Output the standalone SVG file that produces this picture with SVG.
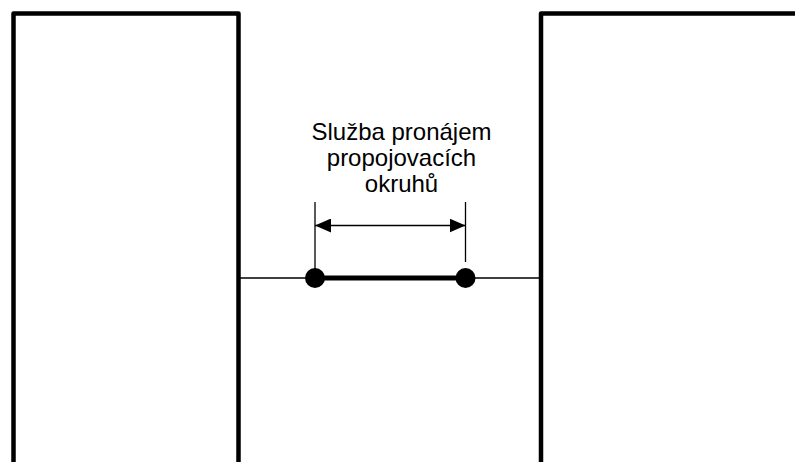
<svg xmlns="http://www.w3.org/2000/svg" width="795" height="462" viewBox="0 0 795 462">
<style>
.box{fill:none;stroke:#000;stroke-width:4.5;stroke-linejoin:round}
.thin{stroke:#000;stroke-width:1.3;fill:none}
.lbl{font-family:"Liberation Sans",Arial,sans-serif;font-size:24px;fill:#000;text-anchor:middle}
</style>
<defs>
<marker id="ah" viewBox="0 0 16 14" refX="16" refY="7" markerWidth="16" markerHeight="14" markerUnits="userSpaceOnUse" orient="auto-start-reverse">
<path d="M0,0 L16,7 L0,14 Z" fill="#000"/>
</marker>
</defs>
<rect width="795" height="462" fill="#fff"/>
<g id="left-node"><path class="box" d="M13.5,470 V13.5 H238.5 V470"/></g>
<g id="right-node"><path class="box" d="M541,470 V13.5 H800"/></g>
<g id="connectors">
<line class="thin" x1="238.5" y1="278" x2="541" y2="278"/>
<line x1="315" y1="278" x2="465.5" y2="278" stroke="#000" stroke-width="5"/>
<circle cx="315" cy="278" r="10" fill="#000"/>
<circle cx="465.5" cy="278" r="10" fill="#000"/>
<line class="thin" x1="315" y1="202" x2="315" y2="278"/>
<line class="thin" x1="465.5" y1="202" x2="465.5" y2="262"/>
<line class="thin" x1="315" y1="225.5" x2="465.5" y2="225.5" marker-start="url(#ah)" marker-end="url(#ah)"/>
</g>
<g id="label">
<text class="lbl" x="401.5" y="140">Služba pronájem</text>
<text class="lbl" x="401.5" y="166">propojovacích</text>
<text class="lbl" x="401.5" y="192">okruhů</text>
</g>
</svg>
